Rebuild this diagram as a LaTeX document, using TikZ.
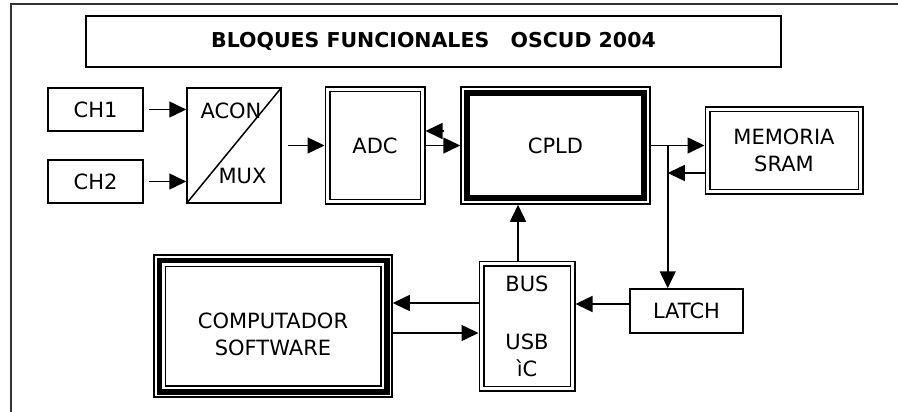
\documentclass[tikz,border=0pt]{standalone}
\usepackage{fontspec}
\setmainfont{DejaVu Sans}
\usetikzlibrary{arrows.meta,positioning}

\begin{document}
\begin{tikzpicture}[x=1pt,y=-1pt,
    every node/.style={font=\fontsize{21}{27}\selectfont},
    caja/.style 2 args={draw,line width=1.5pt,minimum width=#1,minimum height=#2,inner sep=0pt,align=center},
    doble/.style 2 args={caja={#1}{#2},double,double distance=3pt,outer sep=3pt},
    flecha/.style={line width=1.5pt,-{Triangle[length=17pt,width=16pt]}},
    marco/.style={line width=2pt,black!80}]
  \useasboundingbox (0,0) rectangle (898,412);
  \draw[marco] (11,412) -- (11,4) -- (898,4);
  % titulo
  \node[caja={695pt}{51pt},font=\fontsize{20.5}{26}\selectfont\bfseries] (titulo) at (433.5,41.5) {BLOQUES FUNCIONALES\ \ \ OSCUD 2004};
  % bloques
  \node[caja={95pt}{43pt}] (ch1) at (95.5,109.5) {CH1};
  \node[caja={95pt}{43pt}] (ch2) at (95.5,181.5) {CH2};
  \node[caja={94pt}{115pt}] (mux) at (234,145.5) {};
  \draw[line width=1.5pt] (mux.south west) -- (mux.north east);
  \node (acon) at (231,110.5) {ACON};
  \node (muxtxt) at (242.5,175.5) {MUX};
  \node[doble={95pt}{112pt}] (adc) at (375,145.5) {ADC};
  \node[caja={189pt}{117pt}] (cpld) at (555.5,145.5) {CPLD};
  \draw[line width=6pt] ([shift={(7pt,-7pt)}]cpld.north west) rectangle ([shift={(-7pt,7pt)}]cpld.south east);
  \node[doble={153pt}{82pt}] (mem) at (784,150.5) {MEMORIA\\SRAM};
  \node[caja={113pt}{44pt}] (latch) at (686.5,311) {LATCH};
  \node[doble={91pt}{125pt}] (bus) at (527,326) {BUS\\[31pt]USB\\ìC};
  \node[caja={238pt}{142pt}] (comp) at (273,326) {};
  \draw[line width=5.5pt] ([shift={(6pt,-6pt)}]comp.north west) rectangle ([shift={(-6pt,6pt)}]comp.south east);
  \draw[line width=1.5pt] ([shift={(12pt,-12pt)}]comp.north west) rectangle ([shift={(-12pt,12pt)}]comp.south east);
  \node[align=center] (comptxt) at (273,334) {COMPUTADOR\\SOFTWARE};
  % conexiones
  \coordinate (retorno) at (444,131);
  \coordinate (nodo) at ([xshift=17pt]cpld.east);
  \draw[flecha] ([xshift=5pt]ch1.east) -- (ch1.east -| mux.west);
  \draw[flecha] ([xshift=5pt]ch2.east) -- (ch2.east -| mux.west);
  \draw[flecha] ([xshift=6pt]mux.east) -- (mux.east -| adc.west);
  \draw[flecha] (adc.east) -- (adc.east -| cpld.west);
  \draw[flecha] (retorno) -- (retorno -| adc.east);
  \draw[flecha] (cpld.east) -- (cpld.east -| mem.west);
  \draw[flecha] ([yshift=-22.5pt]mem.west) -- ([yshift=-22.5pt]mem.west -| nodo);
  \draw[flecha] (nodo) -- (nodo |- latch.north);
  \draw[flecha] ([yshift=7pt]latch.west) -- ([yshift=7pt]latch.west -| bus.east);
  \draw[flecha] ([xshift=-9pt]bus.north) -- ([xshift=-9pt]bus.north |- cpld.south);
  \draw[flecha] ([yshift=23pt]bus.west) -- ([yshift=23pt]bus.west -| comp.east);
  \draw[flecha] ([yshift=-7pt]comp.east) -- ([yshift=-7pt]comp.east -| bus.west);
\end{tikzpicture}
\end{document}
